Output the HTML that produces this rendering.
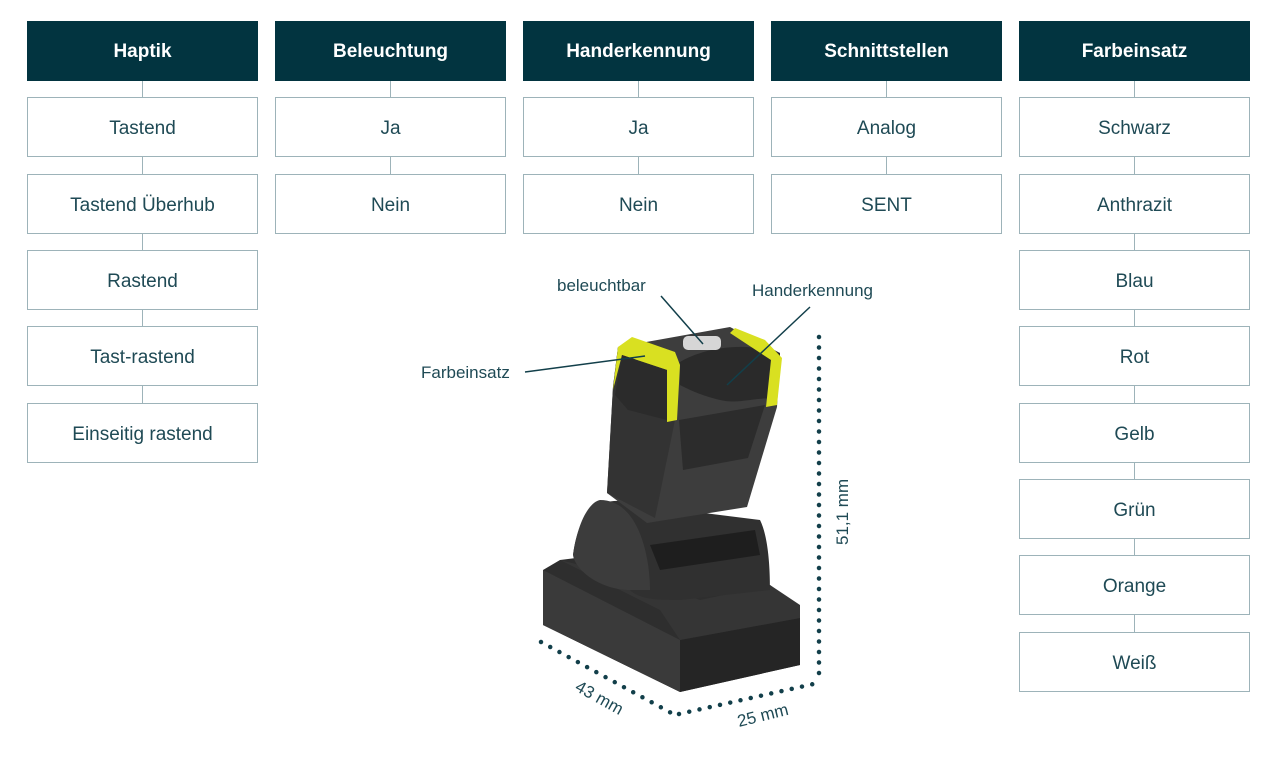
<!DOCTYPE html>
<html><head><meta charset="utf-8"><style>
body{margin:0;width:1280px;height:759px;background:#fff;position:relative;overflow:hidden;font-family:"Liberation Sans",sans-serif}
.h{position:absolute;top:21px;width:231px;height:60px;background:#023440;color:#fff;font-weight:bold;font-size:19px;display:flex;align-items:center;justify-content:center;padding-top:2px;box-sizing:border-box}
.b{position:absolute;width:229px;height:58px;border:1px solid #9db3b9;color:#1f4a55;font-size:19px;display:flex;align-items:center;justify-content:center;background:#fff;padding-top:4px;box-sizing:content-box;height:54px}
.l{position:absolute;width:1px;background:#9db3b9}
.t{position:absolute;color:#1f4a55;font-size:17px}
</style></head><body>
<div class="l" style="left:142px;top:81px;height:325px"></div>
<div class="l" style="left:390px;top:81px;height:100px"></div>
<div class="l" style="left:638px;top:81px;height:100px"></div>
<div class="l" style="left:886px;top:81px;height:100px"></div>
<div class="l" style="left:1134px;top:81px;height:560px"></div>

<div class="h" style="left:27px">Haptik</div>
<div class="h" style="left:275px">Beleuchtung</div>
<div class="h" style="left:523px">Handerkennung</div>
<div class="h" style="left:771px">Schnittstellen</div>
<div class="h" style="left:1019px">Farbeinsatz</div>

<div class="b" style="left:27px;top:97px">Tastend</div>
<div class="b" style="left:27px;top:174px">Tastend Überhub</div>
<div class="b" style="left:27px;top:250px">Rastend</div>
<div class="b" style="left:27px;top:326px">Tast-rastend</div>
<div class="b" style="left:27px;top:403px">Einseitig rastend</div>

<div class="b" style="left:275px;top:97px">Ja</div>
<div class="b" style="left:275px;top:174px">Nein</div>
<div class="b" style="left:523px;top:97px">Ja</div>
<div class="b" style="left:523px;top:174px">Nein</div>
<div class="b" style="left:771px;top:97px">Analog</div>
<div class="b" style="left:771px;top:174px">SENT</div>

<div class="b" style="left:1019px;top:97px">Schwarz</div>
<div class="b" style="left:1019px;top:174px">Anthrazit</div>
<div class="b" style="left:1019px;top:250px">Blau</div>
<div class="b" style="left:1019px;top:326px">Rot</div>
<div class="b" style="left:1019px;top:403px">Gelb</div>
<div class="b" style="left:1019px;top:479px">Grün</div>
<div class="b" style="left:1019px;top:555px">Orange</div>
<div class="b" style="left:1019px;top:632px">Weiß</div>

<svg style="position:absolute;left:0;top:0" width="1280" height="759">
 <polygon points="543,570 560,560 600,555 770,585 800,610 800,665 680,692 543,625" fill="#2e2e2e"/>
 <polygon points="543,570 543,625 680,692 680,640" fill="#3a3a3a"/>
 <polygon points="680,640 800,618 800,665 680,692" fill="#252525"/>
 <polygon points="560,560 660,610 680,640 800,618 800,605 770,585 700,600 660,585" fill="#353535"/>
 <path d="M573,555 C580,500 610,495 640,505 L760,520 C770,540 770,580 770,590 L680,600 C660,600 640,600 630,590 Z" fill="#303030"/>
 <path d="M600,500 C640,500 650,560 650,590 L630,590 C600,590 575,570 573,555 C578,520 590,502 600,500Z" fill="#3c3c3c"/>
 <polygon points="650,545 755,530 760,555 660,570" fill="#1e1e1e"/>
 <polygon points="618,347 730,327 780,353 777,407 747,507 647,523 607,493 613,387" fill="#3d3d3d"/>
 <polygon points="613,387 618,347 680,362 675,420 655,518 607,493" fill="#333"/>
 <polygon points="679,420 765,405 748,458 683,470" fill="#2c2c2c"/>
 <path d="M680,362 C700,350 740,340 780,353 L777,400 C760,395 740,405 720,400 C700,395 690,390 680,385 Z" fill="#2a2a2a"/>
 <polygon points="618,347 632,337 675,352 680,365 677,420 667,422 667,370 622,355 613,390" fill="#d9e021"/>
 <polygon points="622,355 667,370 667,420 628,410 615,395" fill="#2b2b2b"/>
 <polygon points="735,328 765,340 782,358 777,405 766,407 771,360 730,333" fill="#d9e021"/>
 <rect x="683" y="336" width="38" height="14" rx="5" fill="#d6d6d6"/>
 <g stroke="#123f4a" stroke-width="1.5">
  <line x1="525" y1="372" x2="645" y2="356"/>
  <line x1="661" y1="296" x2="703" y2="344"/>
  <line x1="810" y1="307" x2="727" y2="385"/>
 </g>
 <g>
  <line x1="819" y1="337" x2="819" y2="680" stroke="#123f4a" stroke-width="4.5" stroke-dasharray="0 10.5" stroke-linecap="round"/>
  <line x1="541" y1="642" x2="675" y2="715" stroke="#123f4a" stroke-width="4.5" stroke-dasharray="0 10.5" stroke-linecap="round"/>
  <line x1="679" y1="714" x2="818" y2="683" stroke="#123f4a" stroke-width="4.5" stroke-dasharray="0 10.5" stroke-linecap="round"/>
 </g>
 <text x="0" y="0" transform="translate(848,545) rotate(-90)" fill="#1f4a55" font-size="17" font-family="Liberation Sans">51,1 mm</text>
 <text x="0" y="0" transform="translate(574,690) rotate(29)" fill="#1f4a55" font-size="17" font-family="Liberation Sans">43 mm</text>
 <text x="0" y="0" transform="translate(739,727) rotate(-14)" fill="#1f4a55" font-size="17" font-family="Liberation Sans">25 mm</text>
</svg>
<div class="t" style="left:557px;top:276px">beleuchtbar</div>
<div class="t" style="left:752px;top:281px">Handerkennung</div>
<div class="t" style="left:421px;top:363px">Farbeinsatz</div>
</body></html>
